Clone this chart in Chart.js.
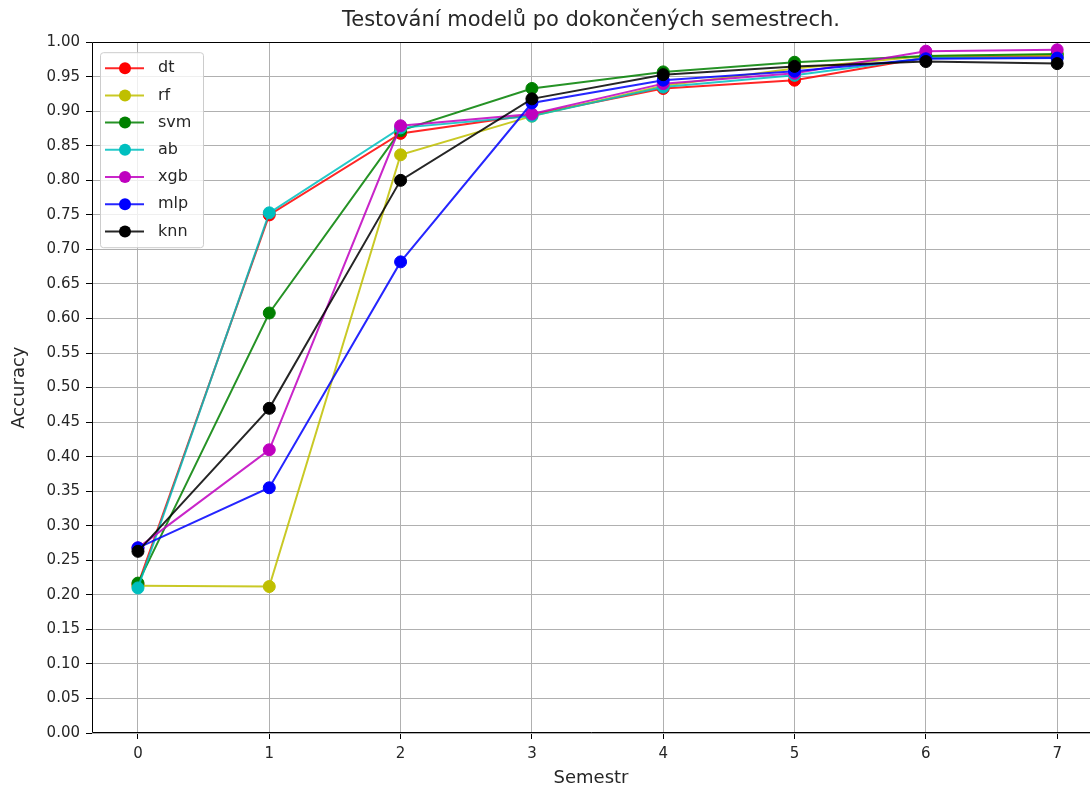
<!DOCTYPE html>
<html>
<head>
<meta charset="utf-8">
<script src="https://cdn.jsdelivr.net/npm/chart.js@4.4.0/dist/chart.umd.min.js"></script>
<style>
  html, body { margin: 0; padding: 0; background: #fff; overflow: hidden; }
  #wrap { width: 1090px; height: 787px; position: relative; }
</style>
</head>
<body>
<div id="wrap"><canvas id="chart" width="1090" height="787"></canvas></div>
<script>
const semesters = [0, 1, 2, 3, 4, 5, 6, 7];

const dt  = [0.215, 0.750, 0.868, 0.895, 0.933, 0.945, 0.978, 0.980];
const rf  = [0.213, 0.212, 0.837, 0.893, 0.937, 0.962, 0.980, 0.982];
const svm = [0.217, 0.608, 0.872, 0.933, 0.957, 0.971, 0.980, 0.983];
const ab  = [0.210, 0.753, 0.876, 0.893, 0.935, 0.952, 0.977, 0.978];
const xgb = [0.268, 0.410, 0.879, 0.896, 0.940, 0.955, 0.987, 0.989];
const mlp = [0.268, 0.355, 0.682, 0.912, 0.945, 0.958, 0.976, 0.977];
const knn = [0.263, 0.470, 0.800, 0.918, 0.953, 0.965, 0.972, 0.969];

const names  = ['dt', 'rf', 'svm', 'ab', 'xgb', 'mlp', 'knn'];
const series = [dt, rf, svm, ab, xgb, mlp, knn];
const colors = ['#ff0000', '#bfbf00', '#008000', '#00bfbf', '#bf00bf', '#0000ff', '#000000'];
const lineColors = ['rgba(255,0,0,0.85)', 'rgba(191,191,0,0.85)', 'rgba(0,128,0,0.85)', 'rgba(0,191,191,0.85)',
                    'rgba(191,0,191,0.85)', 'rgba(0,0,255,0.85)', 'rgba(0,0,0,0.85)'];

const FONT = 'DejaVu Sans';
const TXT = '#262626';

const datasets = names.map((n, i) => ({
    label: n,
    data: semesters.map((s, j) => ({ x: s, y: series[i][j] })),
    borderColor: lineColors[i],
    backgroundColor: colors[i],
    pointBackgroundColor: colors[i],
    pointBorderColor: colors[i],
    borderWidth: 2,
    pointRadius: 6,
    pointBorderWidth: 1,
    tension: 0,
    order: names.length - i
}));

// ramecek: levy, horni a dolni okraj (pravy je v originale oriznuty)
const framePlugin = {
    id: 'frame',
    afterDatasetsDraw(chart) {
        const a = chart.chartArea, c = chart.ctx;
        const l = Math.round(a.left) + 0.5, t = Math.round(a.top) + 0.5, b = Math.round(a.bottom) - 0.5;
        c.save();
        c.strokeStyle = '#000';
        c.lineWidth = 1;
        c.beginPath();
        c.moveTo(a.right, t);
        c.lineTo(l, t);
        c.lineTo(l, b);
        c.lineTo(a.right, b);
        c.stroke();
        c.restore();
    }
};

// legenda uvnitr grafu vlevo nahore
const legendPlugin = {
    id: 'boxLegend',
    afterDraw(chart) {
        const c = chart.ctx;
        const a = chart.chartArea;
        const x0 = a.left + 8, y0 = a.top + 10, w = 103, h = 195;
        c.save();
        c.fillStyle = 'rgba(255,255,255,0.8)';
        c.strokeStyle = '#cccccc';
        c.lineWidth = 1;
        c.beginPath();
        c.roundRect(x0 + 0.5, y0 + 0.5, w, h, 3);
        c.fill();
        c.stroke();
        c.font = '16px "' + FONT + '"';
        c.textBaseline = 'middle';
        names.forEach((n, i) => {
            const y = y0 + 16 + i * 27.2;
            c.strokeStyle = lineColors[i];
            c.lineWidth = 2;
            c.beginPath();
            c.moveTo(x0 + 5, y);
            c.lineTo(x0 + 44, y);
            c.stroke();
            c.fillStyle = colors[i];
            c.beginPath();
            c.arc(x0 + 25, y, 6, 0, Math.PI * 2);
            c.fill();
            c.fillStyle = TXT;
            c.fillText(n, x0 + 58, y);
        });
        c.restore();
    }
};

new Chart(document.getElementById('chart'), {
    type: 'line',
    data: { datasets },
    options: {
        responsive: false,
        animation: false,
        devicePixelRatio: 1,
        layout: { autoPadding: false, padding: { left: 0, right: 0, top: 0, bottom: 0 } },
        plugins: {
            legend: { display: false },
            tooltip: { enabled: false },
            title: {
                display: true,
                fullSize: false,
                text: 'Testování modelů po dokončených semestrech.',
                color: TXT,
                font: { family: FONT, size: 21, weight: 'normal' },
                padding: { top: 8, bottom: 9 }
            }
        },
        scales: {
            x: {
                type: 'linear',
                min: -0.35,
                max: 7.25,
                afterBuildTicks: s => { s.ticks = semesters.map(v => ({ value: v })); },
                afterFit: s => { s.height = 54; },
                ticks: { color: TXT, font: { family: FONT, size: 15 }, padding: 6, maxRotation: 0 },
                grid: { color: '#b0b0b0', lineWidth: 1, tickLength: 6, tickColor: '#000' },
                border: { display: false },
                title: { display: true, text: 'Semestr', color: TXT, font: { family: FONT, size: 18 }, padding: { top: 0, bottom: -2 } }
            },
            y: {
                min: 0,
                max: 1,
                afterBuildTicks: s => {
                    const t = [];
                    for (let k = 0; k <= 20; k++) t.push({ value: k / 20 });
                    s.ticks = t;
                },
                afterFit: s => { s.width = 92; },
                ticks: { color: TXT, font: { family: FONT, size: 15 }, padding: 6, callback: v => v.toFixed(2) },
                grid: { color: '#b0b0b0', lineWidth: 1, tickLength: 6, tickColor: '#000' },
                border: { display: false },
                title: { display: true, text: 'Accuracy', color: TXT, font: { family: FONT, size: 18 }, padding: { top: 9, bottom: 0 } }
            }
        }
    },
    plugins: [framePlugin, legendPlugin]
});
</script>
</body>
</html>
